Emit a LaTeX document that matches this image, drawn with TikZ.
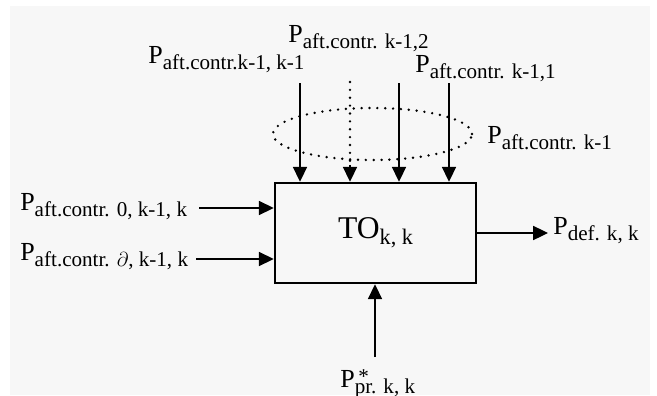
\documentclass[tikz,border=0pt]{standalone}
\usepackage{fontspec}
\setmainfont{Liberation Serif}
\usetikzlibrary{arrows.meta,shapes.geometric}
\definecolor{paper}{HTML}{F7F7F7}
\newcommand{\subfont}{\fontsize{15}{17}\selectfont}
\newcommand{\Pidx}[1]{P\raisebox{-4.3pt}{\subfont #1}}
\begin{document}
\begin{tikzpicture}[x=0.025cm, y=-0.025cm,
  every node/.style={font=\fontsize{18.5}{20}\selectfont, inner sep=0pt},
  lbl/.style={anchor=base west},
  tip/.style={-{Triangle[length=10.5pt,width=10pt]}},
  arr/.style={tip, line width=0.9pt},
  dots/.style={line width=1.9pt, line cap=round, dash pattern=on 0pt off 5.6pt}]
\useasboundingbox (0,0) rectangle (657,395);
\fill[white] (0,0) rectangle (657,395);
\fill[paper] (10,6) rectangle (650,395);
% the block
\node[draw, line width=1.8pt, minimum width=5.025cm, minimum height=2.5cm,
  font=\fontsize{22.5}{24}\selectfont] (box) at (375.5,233)
  {TO\raisebox{-4pt}{\fontsize{15.8}{17}\selectfont k, k}};
% group of inputs from above
\node[ellipse, draw, dots, minimum width=4.975cm, minimum height=1.3cm] (grp) at (372.5,134) {};
\node[lbl] (pA) at (148,63) {\Pidx{aft.contr.k-1, k-1}};
\node[lbl] (pB) at (288,42) {\Pidx{aft.contr. k-1,2}};
\node[lbl] (pC) at (415,72) {\Pidx{aft.contr. k-1,1}};
\node[lbl] (pD) at (487,143) {\Pidx{aft.contr. k-1}};
\coordinate (t1) at (300,83);
\coordinate (t2) at (350,82);
\coordinate (t3) at (399,83);
\coordinate (t4) at (449,83);
\draw[arr] (t1) -- (t1 |- box.north);
\draw[dots] (t2) -- ([yshift=12pt]t2 |- box.north);
\draw[arr] ([yshift=12pt]t2 |- box.north) -- (t2 |- box.north);
\draw[arr] (t3) -- (t3 |- box.north);
\draw[arr] (t4) -- (t4 |- box.north);
% inputs from the left
\node[lbl] (in0) at (20,210) {\Pidx{aft.contr. 0, k-1, k}};
\node[lbl] (in1) at (20,260) {\Pidx{aft.contr. $\partial$, k-1, k}};
\coordinate (l0) at (199,208);
\coordinate (l1) at (196,259);
\draw[arr] (l0) -- (l0 -| box.west);
\draw[arr] (l1) -- (l1 -| box.west);
% output
\node[lbl] (out) at (553,234) {\Pidx{def. k, k}};
\coordinate (o) at (548,233);
\draw[arr] (box.east |- o) -- (o);
% from below
\node[lbl] (pr) at (340,387) {P\rlap{\raisebox{2.5pt}{\subfont\,*}}\raisebox{-4.3pt}{\subfont pr. k, k}};
\coordinate (b) at (375,357);
\draw[arr] (b) -- (b |- box.south);
\end{tikzpicture}
\end{document}
